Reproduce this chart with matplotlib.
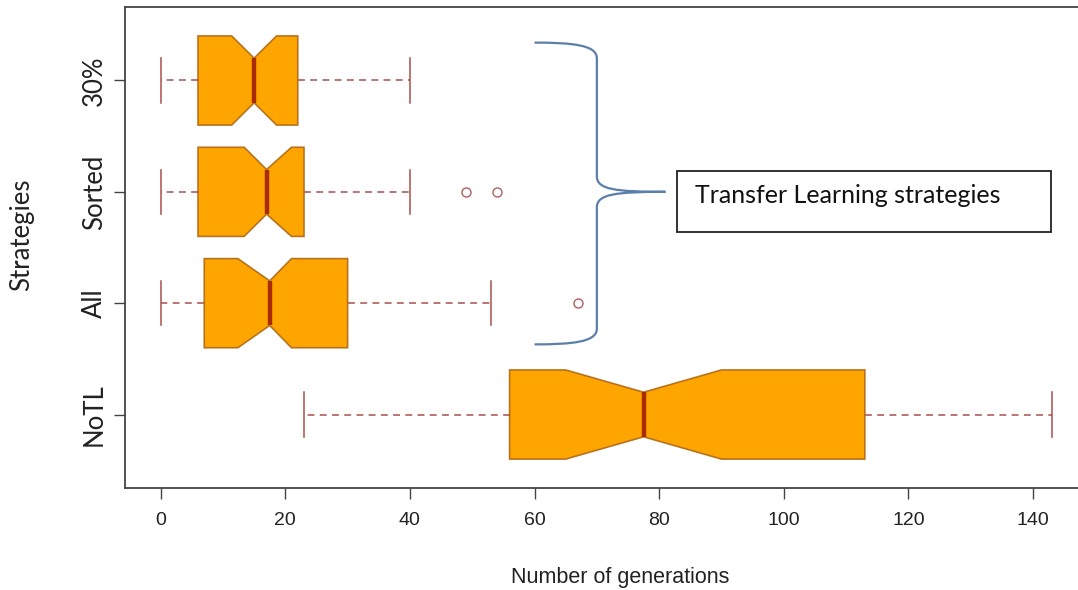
import matplotlib
matplotlib.use("Agg")
import matplotlib.pyplot as plt
from matplotlib.path import Path
from matplotlib.patches import PathPatch, Rectangle

# Summary statistics per strategy (number of generations)
labels = ["NoTL", "All", "Sorted", "30%"]
whislo = [23, 0, 0, 0]
q1 = [56, 7, 6, 6]
med = [77.5, 17.5, 17, 15]
q3 = [113, 30, 23, 22]
whishi = [143, 53, 40, 40]
cilo = [65, 12.4, 13.4, 11.4]
cihi = [90, 21, 21, 18.6]
fliers = [[], [67], [49, 54], []]

xticks = [0, 20, 40, 60, 80, 100, 120, 140]

stats = []
for i, lab in enumerate(labels):
    stats.append(dict(label=lab, whislo=whislo[i], q1=q1[i], med=med[i],
                      q3=q3[i], whishi=whishi[i], cilo=cilo[i], cihi=cihi[i],
                      fliers=fliers[i]))

W, H = 1078, 590
fig = plt.figure(figsize=(W / 100, H / 100), dpi=100)
# axes extends slightly past the right edge of the canvas
ax = fig.add_axes([125 / W, 1 - 488 / H, (1087.4 - 125) / W, (488 - 7) / H])

box_edge = "#b8721c"
whisk_col = "#a8504c"
ax.bxp(stats, positions=range(1, len(labels) + 1), vert=False, widths=0.8,
       shownotches=True, patch_artist=True,
       boxprops=dict(facecolor="#FFA500", edgecolor=box_edge, linewidth=1.2),
       medianprops=dict(color="#a82c00", linewidth=3.2, solid_capstyle="butt"),
       whiskerprops=dict(color=whisk_col, linewidth=1.1, linestyle=(0, (4.5, 3.5))),
       capprops=dict(color=whisk_col, linewidth=1.1),
       flierprops=dict(marker="o", markersize=6.5, markerfacecolor="none",
                       markeredgecolor="#b0605c", markeredgewidth=1.0))

ax.set_xlim(-5.72, 148.72)
ax.set_ylim(0.34, 4.66)

for sp in ax.spines.values():
    sp.set_color("#444444")
    sp.set_linewidth(1.3)

ax.set_xticks(xticks)
ax.set_xticklabels([str(t) for t in xticks])
ax.tick_params(axis="x", length=8, width=1.0, color="#444444", pad=9,
               labelsize=14, labelcolor="#222222")
ax.tick_params(axis="y", length=8, width=1.0, color="#444444", pad=5,
               labelsize=18.5, labelcolor="#222222")
for t in ax.get_xticklabels():
    t.set_family("Liberation Sans")
ax.set_yticks(range(1, len(labels) + 1))
ax.set_yticklabels(labels, rotation=90, va="center", family="Lato")

fig.text(620 / W, 1 - 577 / H, "Number of generations", family="Liberation Sans",
         fontsize=15.5, color="#222222", ha="center", va="center")
fig.text(22 / W, 1 - 235 / H, "Strategies", rotation=90, ha="center", va="center",
         family="Lato", fontsize=18.5, color="#222222")

# curly brace grouping the transfer-learning strategies
verts = [(60, 4.34),
         (66, 4.34), (70, 4.32), (70, 4.2),
         (70, 3.14),
         (70, 3.02), (73, 3.0), (81, 3.0),
         (73, 3.0), (70, 2.98), (70, 2.86),
         (70, 1.77),
         (70, 1.65), (66, 1.63), (60, 1.63)]
codes = [Path.MOVETO,
         Path.CURVE4, Path.CURVE4, Path.CURVE4,
         Path.LINETO,
         Path.CURVE4, Path.CURVE4, Path.CURVE4,
         Path.CURVE4, Path.CURVE4, Path.CURVE4,
         Path.LINETO,
         Path.CURVE4, Path.CURVE4, Path.CURVE4]
ax.add_patch(PathPatch(Path(verts, codes), facecolor="none", edgecolor="#5a80aa",
                       linewidth=1.6, clip_on=False))

ax.add_patch(Rectangle((82.9, 2.642), 142.8 - 82.9, 3.188 - 2.642, facecolor="white",
                       edgecolor="#222222", linewidth=1.3, zorder=3))
ax.text(85.7, 2.899, "Transfer Learning strategies", family="Lato", fontsize=18,
        color="#111111", va="baseline", ha="left", zorder=4)

fig.savefig("out.png", dpi=100)
